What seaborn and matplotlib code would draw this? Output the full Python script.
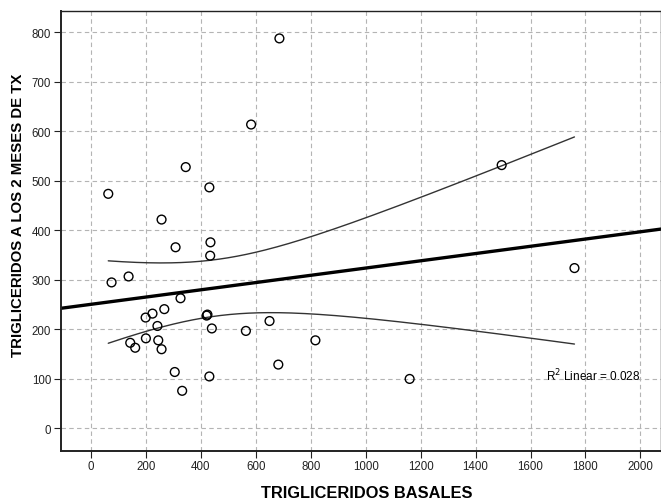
import numpy as np
import pandas as pd
import seaborn as sns
import matplotlib.pyplot as plt

# triglicéridos basales (x) y a los 2 meses de tx (y)
tg_basal = [686, 583, 345, 431, 63, 257, 308, 435, 434, 137, 75, 326, 267, 224,
            199, 421, 424, 242, 440, 564, 650, 817, 200, 143, 161, 245, 257, 305,
            431, 332, 682, 1160, 1495, 1760]
tg_2meses = [788, 614, 528, 487, 474, 422, 366, 376, 349, 307, 295, 263, 241, 232,
             224, 228, 230, 207, 202, 197, 217, 178, 182, 173, 163, 178, 160, 114,
             105, 76, 129, 100, 532, 324]
x_ticks = list(range(0, 2001, 200))
y_ticks = list(range(0, 801, 100))

df = pd.DataFrame({'basal': tg_basal, 'dos_meses': tg_2meses})

sns.set_theme(style='white')
plt.rcParams['font.family'] = ['Liberation Sans Narrow', 'Liberation Sans', 'DejaVu Sans']
plt.rcParams['text.color'] = 'black'
plt.rcParams['xtick.direction'] = 'out'
plt.rcParams['ytick.direction'] = 'out'

fig = plt.figure(figsize=(6.61, 5.02), dpi=100)
ax = fig.add_axes([0.0923, 0.1002, 0.9077, 0.8765])
ax.set_xlim(-109, 2075)
ax.set_ylim(-45, 844)

# regresion lineal y banda de confianza de la media (95%)
x = df['basal'].values
y = df['dos_meses'].values
n = len(x)
b1, b0 = np.polyfit(x, y, 1)
resid = y - (b0 + b1 * x)
s = np.sqrt(np.sum(resid ** 2) / (n - 2))
sxx = np.sum((x - x.mean()) ** 2)
r2 = 1 - np.sum(resid ** 2) / np.sum((y - y.mean()) ** 2)
xs = np.linspace(x.min(), x.max(), 200)
se = s * np.sqrt(1 / n + (xs - x.mean()) ** 2 / sxx)
t = 2.037
band = pd.DataFrame({'x': xs, 'lo': b0 + b1 * xs - t * se, 'hi': b0 + b1 * xs + t * se})

sns.lineplot(data=band, x='x', y='hi', color='#333333', lw=1.0, ax=ax)
sns.lineplot(data=band, x='x', y='lo', color='#333333', lw=1.0, ax=ax)
sns.regplot(data=df, x='basal', y='dos_meses', scatter=False, ci=None, truncate=False,
            line_kws={'color': 'black', 'lw': 2.4}, ax=ax)
sns.scatterplot(data=df, x='basal', y='dos_meses', marker='o', s=40,
                facecolor='none', edgecolor='black', linewidth=1.0, ax=ax, zorder=5)

ax.set_xticks(x_ticks)
ax.set_yticks(y_ticks)
ax.grid(True, color='#b4b4b4', linestyle=(0, (4, 3)), linewidth=0.8)
ax.set_axisbelow(True)
for sp in ax.spines.values():
    sp.set_color('#222222')
    sp.set_linewidth(1.0)
ax.spines['left'].set_linewidth(1.4)
ax.spines['bottom'].set_linewidth(1.4)
ax.tick_params(axis='both', labelsize=8.3, length=5, width=0.8, color='#222222',
               labelcolor='#222222', left=True, bottom=True, pad=2)

ax.text(1658, 108, 'R$^2$ Linear = %.3f' % r2, fontsize=8.5, va='center', ha='left')
ax.set_xlabel('')
ax.set_ylabel('')
fig.text(367 / 661, 1 - 494 / 502, 'TRIGLICERIDOS BASALES', fontsize=11.8,
         fontweight='bold', ha='center', va='center')
fig.text(18 / 661, 1 - 215 / 502, 'TRIGLICERIDOS A LOS 2 MESES DE TX', fontsize=10.8,
         fontweight='bold', ha='center', va='center', rotation=90)

fig.savefig('out.png', dpi=100)
